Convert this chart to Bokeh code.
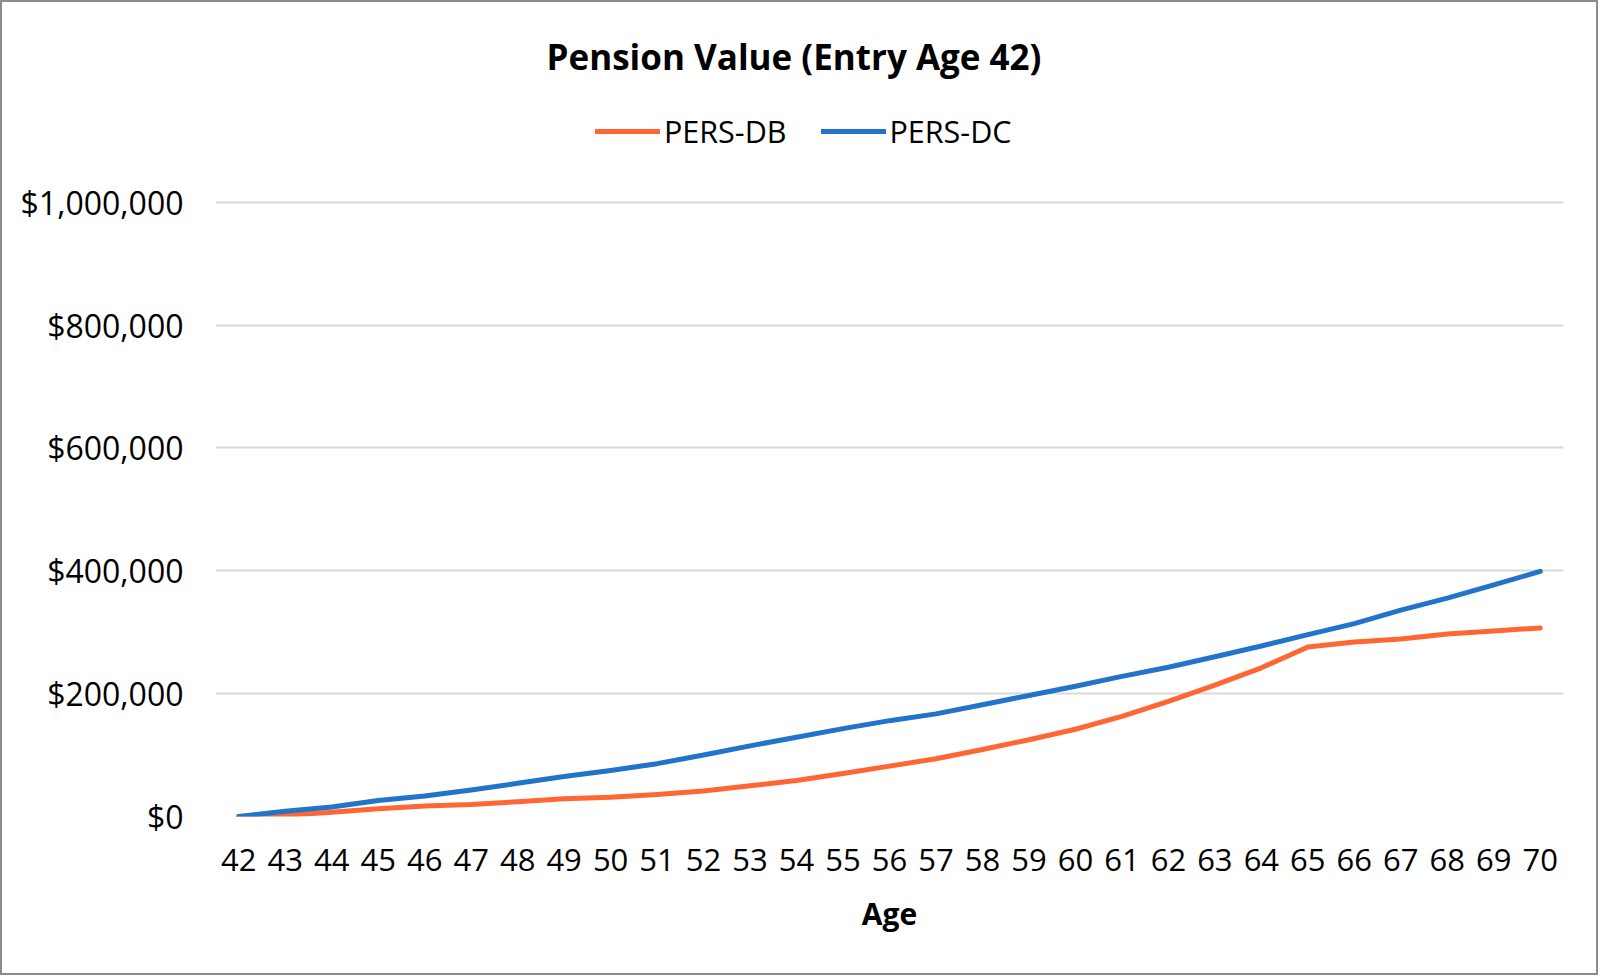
from bokeh.plotting import figure
from bokeh.models import Range1d, FixedTicker, NumeralTickFormatter, Legend, LegendItem
from bokeh.embed import file_html
from bokeh.resources import INLINE

ages = list(range(42, 71))
pers_db = [0, 2000, 7000, 12500, 17000, 19500, 24000, 29000, 31500, 36000,
           41500, 50000, 58500, 70000, 82000, 94000, 109000, 125000, 142000, 163000,
           187500, 214000, 242000, 276000, 284000, 289000, 297000, 302000, 307000]
pers_dc = [0, 8500, 15500, 26000, 33500, 43000, 54000, 65000, 75000, 86000,
           100000, 115000, 129000, 143000, 156000, 167000, 182000, 197000, 212000, 228000,
           243000, 260000, 277500, 296000, 314000, 336000, 355500, 377000, 399000]
y_ticks = [0, 200000, 400000, 600000, 800000, 1000000]

FONT = "Open Sans"

p = figure(width=1598, height=975, output_backend="svg", toolbar_location=None,
           x_range=Range1d(41.5, 70.5), y_range=Range1d(0, 1181700),
           min_border_left=213, min_border_right=37, min_border_top=88, min_border_bottom=161)
p.styles = {"border": "2px solid #8c8c8c"}
p.outline_line_color = None

p.title.text = "Pension Value (Entry Age 42)"
p.title.align = "left"
p.title.offset = 331
p.title.standoff = 21
p.title.text_font = FONT
p.title.text_font_size = "35px"
p.title.text_font_style = "bold"
p.title.text_color = "#000000"

r_db = p.line(ages, pers_db, line_color="#FF6633", line_width=5, line_cap="round", line_join="round")
r_dc = p.line(ages, pers_dc, line_color="#2273CA", line_width=5, line_cap="round", line_join="round")

p.xaxis.ticker = FixedTicker(ticks=ages)
p.yaxis.ticker = FixedTicker(ticks=y_ticks)
p.yaxis.formatter = NumeralTickFormatter(format="$0,0")
for ax in (p.xaxis[0], p.yaxis[0]):
    ax.axis_line_color = None
    ax.major_tick_line_color = None
    ax.minor_tick_line_color = None
    ax.major_tick_out = 0
    ax.major_tick_in = 0
    ax.minor_tick_out = 0
    ax.minor_tick_in = 0
    ax.major_label_text_font = FONT
    ax.major_label_text_color = "#000000"
p.xaxis.major_label_text_font_size = "31px"
p.yaxis.major_label_text_font_size = "32px"
p.yaxis.major_label_standoff = 32
p.xaxis.major_label_standoff = 32
p.xaxis.axis_label = "Age"
p.xaxis.axis_label_text_font = FONT
p.xaxis.axis_label_text_font_size = "30px"
p.xaxis.axis_label_text_font_style = "bold"
p.xaxis.axis_label_text_color = "#000000"
p.xaxis.axis_label_standoff = 19

p.xgrid.grid_line_color = None
p.ygrid.grid_line_color = "#D9D9D9"
p.ygrid.grid_line_width = 2

legend = Legend(items=[LegendItem(label="PERS-DB", renderers=[r_db]),
                       LegendItem(label="PERS-DC", renderers=[r_dc])],
                orientation="horizontal", location=(380, 664),
                glyph_width=65, glyph_height=30, label_standoff=4, spacing=34,
                padding=0, margin=0, border_line_color=None, background_fill_alpha=0,
                label_text_font=FONT, label_text_font_size="30.5px", label_text_color="#000000")
p.add_layout(legend, "center")

open("out.html", "w").write(file_html(p, INLINE))
